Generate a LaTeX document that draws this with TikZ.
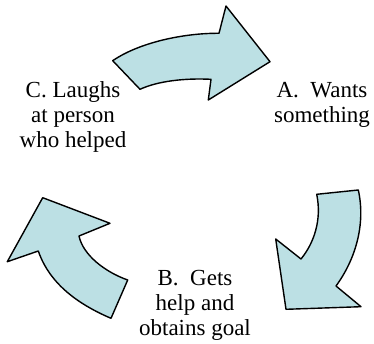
\documentclass[tikz,border=0pt]{standalone}
\usepackage{fontspec}
\newfontfamily\cyclefont{Liberation Serif}
\usepackage{tikz}
\usetikzlibrary{arrows,positioning}
\definecolor{cyclefill}{RGB}{188,224,228}
\tikzstyle{bigarrow}=[draw=black,fill=cyclefill,line width=1.4pt,line join=round]
\tikzstyle{stage}=[align=center,inner sep=0pt,font=\cyclefont\fontsize{23}{25}\selectfont]

\begin{document}
\begin{tikzpicture}[
    x=1pt,
    y=-1pt
    ]
    \useasboundingbox (0,0) rectangle (374,344);
    % the three steps
    \node[stage](sa) at (322,105){A.~ Wants\\something};
    \node[stage](sb) at (195,305){B.~ Gets\\help and\\obtains goal};
    \node[stage](sc) at (73,117){C. Laughs\\at person\\who helped};
    % top arrow, C to A
    \draw[bigarrow] (112.7,60.7) .. controls (140,42) and (185,33) .. (219,33.3)
        -- (226,6) -- (270,61.7) -- (208.3,100) -- (211,79.3)
        .. controls (185,78) and (158,81) .. (140,89.3) -- cycle;
    % right arrow, A to B
    \draw[bigarrow] (316.7,194.3) -- (358.3,190)
        .. controls (366,225) and (355,260) .. (336,286)
        -- (361,306.7) -- (286,309.3) -- (275.7,239) -- (301,259)
        .. controls (314,243) and (322,220) .. (316.7,194.3) -- cycle;
    % left arrow, B to C
    \draw[bigarrow] (127.7,280) -- (111,318.3)
        .. controls (80,305) and (50,285) .. (38.3,251)
        -- (7.3,261.7) -- (42.7,197.7) -- (110,223.3) -- (79,236)
        .. controls (83,255) and (105,272) .. (127.7,280) -- cycle;
\end{tikzpicture}
\end{document}
